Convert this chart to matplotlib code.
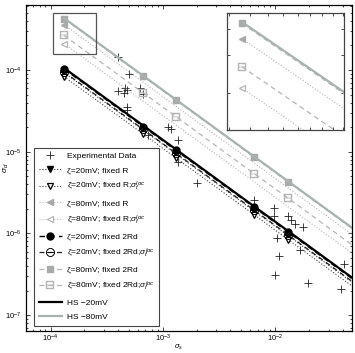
import matplotlib
matplotlib.use("Agg")
import matplotlib.pyplot as plt
from matplotlib.patches import Rectangle
from matplotlib.ticker import LogLocator, NullFormatter

plt.rcParams['font.family'] = ['Liberation Sans', 'DejaVu Sans']
plt.rcParams['mathtext.fontset'] = 'custom'
plt.rcParams['mathtext.rm'] = 'Liberation Sans'
plt.rcParams['mathtext.it'] = 'Liberation Sans:italic'
plt.rcParams['mathtext.sf'] = 'Liberation Sans'

# ---------------- data ----------------
exp_sigma = [3.99e-4, 5.0e-4, 4.0e-4, 4.6e-4, 4.5e-4, 4.8e-4, 4.8e-4, 4.8e-4, 6.3e-4, 6.7e-4,
             7.4e-4, 1.11e-3, 1.19e-3, 1.37e-3, 1.37e-3, 2.02e-3, 6.5e-3, 9.8e-3, 9.8e-3, 1.31e-2,
             1.39e-2, 1.51e-2, 1.77e-2, 1.04e-2, 1.09e-2, 1.67e-2, 1.0e-2, 1.97e-2, 4.1e-2, 3.9e-2]
exp_value = [1.44e-4, 8.9e-5, 5.5e-5, 6.0e-5, 5.2e-5, 5.7e-5, 3.5e-5, 3.2e-5, 6.0e-5, 5.1e-5,
             1.6e-5, 2.0e-5, 1.9e-5, 1.39e-5, 7.5e-6, 4.1e-6, 2.56e-6, 2.04e-6, 1.63e-6, 1.63e-6,
             1.46e-6, 1.30e-6, 1.20e-6, 8.8e-7, 5.3e-7, 6.25e-7, 3.1e-7, 2.47e-7, 4.2e-7, 2.1e-7]

model_sigma = [1.32e-4, 6.7e-4, 1.31e-3, 6.5e-3, 1.31e-2, 6.5e-2]
hs20 = [1.06e-4, 2.09e-5, 1.07e-5, 2.15e-6, 1.07e-6, 2.15e-7]
hs80 = [4.32e-4, 8.5e-5, 4.35e-5, 8.77e-6, 4.35e-6, 8.77e-7]
z20_R = [9.3e-5, 1.84e-5, 9.4e-6, 1.89e-6, 9.4e-7, 1.89e-7]
z20_R_loc = [8.3e-5, 1.65e-5, 8.4e-6, 1.70e-6, 8.4e-7, 1.70e-7]
z80_R = [3.6e-4, 7.1e-5, 3.6e-5, 7.3e-6, 3.6e-6, 7.3e-7]
z80_R_loc = [2.1e-4, 4.15e-5, 2.12e-5, 4.3e-6, 2.12e-6, 4.3e-7]
z20_2Rd = [1.03e-4, 2.03e-5, 1.04e-5, 2.09e-6, 1.04e-6, 2.09e-7]
z20_2Rd_loc = [9.5e-5, 1.88e-5, 9.6e-6, 1.94e-6, 9.6e-7, 1.94e-7]
z80_2Rd = [4.25e-4, 8.35e-5, 4.27e-5, 8.6e-6, 4.27e-6, 8.6e-7]
z80_2Rd_loc = [2.65e-4, 5.25e-5, 2.7e-5, 5.4e-6, 2.7e-6, 5.4e-7]

labels = ["Experimental Data",
          "ζ=20mV; fixed R",
          r"ζ=20mV; fixed R;$\sigma_f^{loc}$",
          "ζ=80mV; fixed R",
          r"ζ=80mV; fixed R;$\sigma_f^{loc}$",
          "ζ=20mV; fixed 2Rd",
          r"ζ=20mV; fixed 2Rd;$\sigma_f^{loc}$",
          "ζ=80mV; fixed 2Rd",
          r"ζ=80mV; fixed 2Rd;$\sigma_f^{loc}$",
          "HS −20mV",
          "HS −80mV"]

xlim = (6.05e-5, 4.82e-2)
ylim = (6.46e-8, 6.2e-4)
box_x = (10**-3.978, 10**-3.595)
box_y = (10**-3.804, 10**-3.302)
inset_xlim = (10**-3.928, 10**-3.548)
inset_ylim = (10**-3.876, 10**-3.322)

# ---------------- styling ----------------
G_LINE = '#a9b3ae'
G_MARK = '#a8aaa9'
G_OPEN = '#b5b5b5'


def draw_series(ax):
    h = []
    h.append(ax.plot(exp_sigma, exp_value, '+', color='#222222', ms=5.5, mew=0.6, ls='none')[0])
    h.append(ax.plot(model_sigma, z20_R, ls=':', color='#333333', lw=0.8, marker='v', ms=5,
                     mfc='black', mec='black')[0])
    h.append(ax.plot(model_sigma, z20_R_loc, ls=':', color='#444444', lw=0.8, marker='v', ms=5,
                     mfc='white', mec='black', mew=0.9)[0])
    h.append(ax.plot(model_sigma, z80_R, ls=':', color=G_OPEN, lw=0.8, marker='<', ms=5,
                     mfc=G_MARK, mec=G_MARK, markevery=[0])[0])
    h.append(ax.plot(model_sigma, z80_R_loc, ls=':', color=G_OPEN, lw=0.8, marker='<', ms=5,
                     mfc='white', mec=G_OPEN, mew=0.9, markevery=[0])[0])
    h.append(ax.plot(model_sigma, z20_2Rd, ls=(0, (4, 3)), color='black', lw=1.0, marker='o', ms=5,
                     mfc='black', mec='black')[0])
    h.append(ax.plot(model_sigma, z20_2Rd_loc, ls=(0, (4, 3)), color='#222222', lw=0.9,
                     marker=r'$\ominus$', ms=6, mfc='black', mec='black', mew=0.3)[0])
    h.append(ax.plot(model_sigma, z80_2Rd, ls=(0, (4, 3)), color=G_OPEN, lw=0.9, marker='s', ms=4.5,
                     mfc=G_MARK, mec=G_MARK)[0])
    h.append(ax.plot(model_sigma, z80_2Rd_loc, ls=(0, (4, 3)), color=G_OPEN, lw=0.9,
                     marker=r'$\boxminus$', ms=6, mfc=G_OPEN, mec=G_OPEN, mew=0.3)[0])
    h.append(ax.plot(model_sigma, hs20, '-', color='black', lw=1.6)[0])
    h.append(ax.plot(model_sigma, hs80, '-', color=G_LINE, lw=1.6)[0])
    return h


fig = plt.figure(figsize=(3.55, 3.53), dpi=100)
ax = fig.add_axes([26 / 355, 1 - 330.7 / 353, 325.7 / 355, 325.4 / 353])
ax.set_xscale('log')
ax.set_yscale('log')
handles = draw_series(ax)
ax.set_xlim(*xlim)
ax.set_ylim(*ylim)

ax.tick_params(which='both', direction='in', top=True, right=True, labelsize=5.5, width=0.5)
ax.tick_params(which='major', length=3, pad=3)
ax.tick_params(axis='x', which='major', pad=1.5)
ax.tick_params(which='minor', length=1.5)
ax.xaxis.set_major_locator(LogLocator(base=10, numticks=10))
ax.yaxis.set_major_locator(LogLocator(base=10, numticks=10))
ax.xaxis.set_minor_locator(LogLocator(base=10, subs=range(2, 10), numticks=20))
ax.yaxis.set_minor_locator(LogLocator(base=10, subs=range(2, 10), numticks=20))
ax.xaxis.set_minor_formatter(NullFormatter())
ax.yaxis.set_minor_formatter(NullFormatter())
for s in ax.spines.values():
    s.set_linewidth(0.9)

ax.set_xlabel(r'$\sigma_s$', fontsize=5.5)
ax.set_ylabel(r'$\sigma_d$', fontsize=6)
ax.xaxis.set_label_coords(0.47, -0.036)
ax.yaxis.set_label_coords(-0.045, 0.5)

ax.add_patch(Rectangle((box_x[0], box_y[0]), box_x[1] - box_x[0], box_y[1] - box_y[0],
                       fill=False, ec='#555555', lw=0.9, zorder=5))

leg = ax.legend(handles, labels, loc='lower left', fontsize=6, frameon=True, fancybox=False,
                edgecolor='#444444', framealpha=1, handlelength=2.7, handletextpad=0.6,
                labelspacing=0.72, borderpad=0.6, bbox_to_anchor=(0.012, 0.003))
leg.get_frame().set_linewidth(0.8)

# inset
ins = fig.add_axes([227 / 355, 1 - 130 / 353, 117 / 355, 117 / 353])
ins.set_xscale('log')
ins.set_yscale('log')
draw_series(ins)
ins.set_xlim(*inset_xlim)
ins.set_ylim(*inset_ylim)
ins.tick_params(which='both', direction='in', top=True, right=True, labelbottom=False,
                labelleft=False, width=0.5, length=2)
ins.xaxis.set_minor_formatter(NullFormatter())
ins.yaxis.set_minor_formatter(NullFormatter())
for s in ins.spines.values():
    s.set_linewidth(0.9)
    s.set_edgecolor('#444444')

fig.savefig('out.png', dpi=100)
